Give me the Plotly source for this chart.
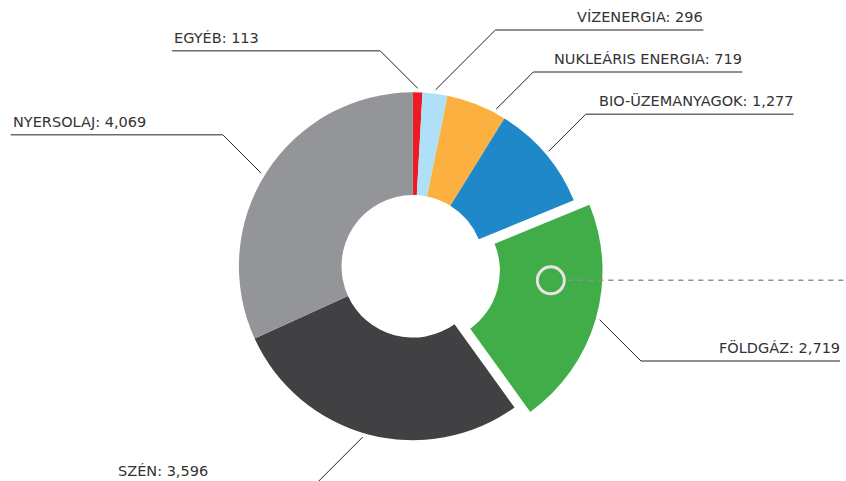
import math
import plotly.graph_objects as go

# ---- data ----
labels = ["EGYÉB", "VÍZENERGIA", "NUKLEÁRIS ENERGIA", "BIO-ÜZEMANYAGOK", "FÖLDGÁZ", "SZÉN", "NYERSOLAJ"]
values = [113, 296, 719, 1277, 2719, 3596, 4069]
value_text = ["113", "296", "719", "1,277", "2,719", "3,596", "4,069"]
colors = ["#ED1C24", "#AEE0F7", "#FBB040", "#1E88C9", "#41AD49", "#414042", "#939598"]
pulls = [0, 0, 0, 0, 0.094, 0, 0]

# ---- layout helpers (label placement, not data) ----
W, H = 846, 481
dom_x = [0.188, 0.788]
dom_y = [0.0508, 0.842]
hole = 0.41
label_side = ["left", "right", "right", "right", "right", "left", "left"]
label_y = [50.7, 30, 72, 114.3, 361, 484, 134.7]      # px, horizontal leader level
label_len = [208, 208, 209, 208, 208, 200, 212]
angle_shift = [0, 0, 6.3, 0, 0, 1.5, -1.2]           # deg, leader anchor tweak
highlight_index = 4
highlight_frac = 0.35

fig = go.Figure(go.Pie(
    labels=labels, values=values, sort=False, direction="clockwise", rotation=0,
    hole=hole, pull=pulls, marker=dict(colors=colors, line=dict(width=0)),
    textinfo="none", hoverinfo="label+value", showlegend=False,
    domain=dict(x=dom_x, y=dom_y),
))

# geometry consistent with plotly's pie scaling
cx = W * (dom_x[0] + dom_x[1]) / 2
cy = H * (1 - (dom_y[0] + dom_y[1]) / 2)
r = min(W * (dom_x[1] - dom_x[0]), H * (dom_y[1] - dom_y[0])) / (2 + 2 * max(pulls))
total = sum(values)

def px(x):
    return x / W

def py(y):
    return 1 - y / H

def pt(ccx, ccy, ang, rad):
    a = math.radians(ang)
    return ccx + rad * math.sin(a), ccy - rad * math.cos(a)

shapes = []
annotations = []
cum = 0
for i, v in enumerate(values):
    start = cum / total * 360
    span = v / total * 360
    mid = start + span / 2
    cum += v
    ccx, ccy = pt(cx, cy, mid, pulls[i] * r)
    ex, ey = pt(ccx, ccy, mid + angle_shift[i], r + 4)
    ly = label_y[i]
    dy = abs(ey - ly)
    kx = ex + dy if label_side[i] == "right" else ex - dy
    fx = kx + label_len[i] if label_side[i] == "right" else kx - label_len[i]
    fx = max(4, min(W - 6, fx))
    shapes.append(dict(type="line", xref="paper", yref="paper",
                       x0=px(ex), y0=py(ey), x1=px(kx), y1=py(ly),
                       line=dict(color="#222222", width=1)))
    shapes.append(dict(type="line", xref="paper", yref="paper",
                       x0=px(kx), y0=py(ly), x1=px(fx), y1=py(ly),
                       line=dict(color="#6d6d6d", width=1.6)))
    annotations.append(dict(
        xref="paper", yref="paper", x=px(fx + (2 if label_side[i] == "right" else 0)),
        y=py(ly - 3), xanchor="right" if label_side[i] == "right" else "left",
        yanchor="bottom", showarrow=False,
        text=f"{labels[i]}: {value_text[i]}",
        font=dict(family="DejaVu Sans", size=14.5, color="#333333"),
    ))
    if i == highlight_index:
        mang = start + span * highlight_frac
        mx, my = pt(ccx, ccy, mang, r * (1 + hole) / 2)

rr = 13.5
shapes.append(dict(type="line", xref="paper", yref="paper",
                   x0=px(mx + rr + 4), y0=py(my), x1=1, y1=py(my),
                   line=dict(color="#8f8f8f", width=1.5, dash="5px,5px")))
shapes.append(dict(type="circle", xref="paper", yref="paper",
                   x0=px(mx - rr), y0=py(my - rr), x1=px(mx + rr), y1=py(my + rr),
                   line=dict(color="#e4e4e4", width=3), fillcolor="rgba(0,0,0,0)"))

fig.update_layout(
    width=W, height=H, margin=dict(l=0, r=0, t=0, b=0),
    paper_bgcolor="white", plot_bgcolor="white",
    shapes=shapes, annotations=annotations,
)
fig.write_html(
    "out.html",
    config={"displayModeBar": False},
    post_script="document.body.style.margin='0';document.body.style.overflow='hidden';",
)
